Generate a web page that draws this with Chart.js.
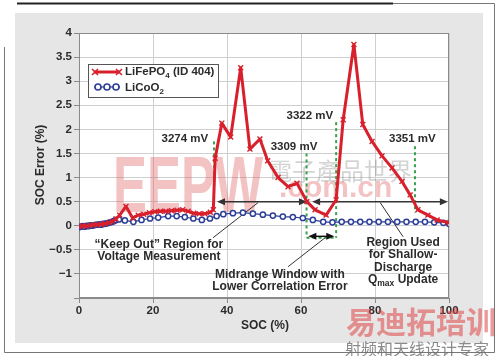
<!DOCTYPE html>
<html>
<head>
<meta charset="utf-8">
<script src="https://cdn.jsdelivr.net/npm/chart.js@4"></script>
<style>
html,body{margin:0;padding:0;background:#fff;}
#wrap{width:500px;height:356px;position:relative;}
</style>
</head>
<body>
<div id="wrap"><canvas id="c" width="500" height="356"></canvas></div>
<script>
// LiFePO4 (ID 404) SOC error
const socFe=[0,1,2,3,4,5,6,7,8,9,10,11,12.7,14.5,16,17.5,19,20.5,22,23.5,25,26.5,28,29.5,31,32.5,34,35.5,36.3,36.8,38.6,41,43.7,46.2,48.9,51,53.8,56.5,58.9,61.6,63.8,66.8,69.5,71.4,74.3,76.7,79.2,81.9,84.6,87.3,89.5,91.6,94.3,96.8,100];
const errFe=[-0.02,0,-0.01,0.01,0.02,0.02,0.03,0.04,0.06,0.09,0.14,0.22,0.4,0.16,0.22,0.24,0.27,0.29,0.3,0.3,0.31,0.32,0.33,0.3,0.26,0.25,0.25,0.28,0.33,1.4,2.13,1.84,3.28,1.59,1.8,1.35,1.0,0.81,0.88,0.5,0.33,0.22,0.54,2.2,3.76,2.1,1.75,1.45,1.2,0.92,0.64,0.33,0.22,0.12,0.06];

// LiCoO2
const socCo=[0,0.5,1,1.5,2,2.5,3,3.5,4,4.5,5,5.5,6,6.5,7,7.5,8,8.5,9,9.5,10,10.8,12.4,14.7,16.9,19.2,21.4,24.1,26.4,28.6,30.9,33.2,35.4,37.2,39,41.6,44.3,47,49.7,52.4,55.1,57.8,60.5,63.2,66,68.5,71,73.5,76,78.5,81,83.5,86,88.5,91,93.5,96,98.5,100];
const errCo=[-0.03,-0.02,-0.01,-0.02,0,-0.01,0.01,0,0.01,0.02,0.02,0.03,0.02,0.04,0.04,0.05,0.06,0.07,0.08,0.1,0.12,0.13,0.11,0.08,0.12,0.15,0.17,0.2,0.2,0.18,0.15,0.12,0.15,0.2,0.24,0.26,0.27,0.25,0.23,0.21,0.19,0.18,0.16,0.12,0.08,0.07,0.08,0.08,0.08,0.08,0.08,0.08,0.08,0.08,0.08,0.08,0.07,0.06,0.04];

const xTicks=[0,20,40,60,80,100];
const yTicks=[4,3.5,3,2.5,2,1.5,1,0.5,0,-0.5,-1];

// voltage markers (green dashed)
const mvLabels=['3274 mV','3309 mV','3322 mV','3351 mV'];
const mvSoc=[36.5,61.5,69.5,90.8];
const mvTop=[1.75,1.5,2.15,1.65];
const mvBottom=[0.4,-0.25,-0.25,0.27];
const mvLabelSoc=[28.6,58.1,62.4,90.1];
const mvLabelVal=[1.8,1.63,2.29,1.8];

const RED='#d8202c', BLUE='#2c3f96', GREEN='#35a24a', INK='#2b2b2b';
const FONT='"Liberation Sans", Arial, sans-serif';

function pt(chart,sx,v){
  return [chart.scales.x.getPixelForValue(sx), chart.scales.y.getPixelForValue(v)];
}

function arrowHead(ctx,x,y,dir){
  ctx.beginPath();
  ctx.moveTo(x,y);
  ctx.lineTo(x-dir*8,y-3.5);
  ctx.lineTo(x-dir*8,y+3.5);
  ctx.closePath(); ctx.fill();
}
function dblArrow(chart,s1,s2,v,color){
  const ctx=chart.ctx;
  const [x1,y]=pt(chart,s1,v); const [x2]=pt(chart,s2,v);
  ctx.save(); ctx.strokeStyle=color; ctx.fillStyle=color; ctx.lineWidth=1.5;
  ctx.beginPath(); ctx.moveTo(x1+4,y); ctx.lineTo(x2-4,y); ctx.stroke();
  arrowHead(ctx,x1,y,-1); arrowHead(ctx,x2,y,1);
  ctx.restore();
}
function segment(chart,s1,v1,s2,v2){
  const ctx=chart.ctx;
  const [x1,y1]=pt(chart,s1,v1), [x2,y2]=pt(chart,s2,v2);
  ctx.save(); ctx.strokeStyle='#333'; ctx.lineWidth=1;
  ctx.beginPath(); ctx.moveTo(x1,y1); ctx.lineTo(x2,y2); ctx.stroke(); ctx.restore();
}
function centerText(ctx,text,x,y){
  ctx.textAlign='center'; ctx.textBaseline='middle'; ctx.fillText(text,x,y);
}

const framePlugin={
  id:'frame',
  beforeDraw(chart){
    const ctx=chart.ctx, a=chart.chartArea;
    ctx.save();
    ctx.fillStyle='#fff'; ctx.fillRect(0,0,500,356);
    ctx.fillStyle='#e6e6e6'; ctx.fillRect(15,13,468,330);
    ctx.strokeStyle='#222'; ctx.lineWidth=2;
    ctx.beginPath(); ctx.moveTo(17,3.5); ctx.lineTo(393,3.5); ctx.stroke();
    ctx.strokeStyle='#777'; ctx.lineWidth=1;
    ctx.beginPath(); ctx.moveTo(393,3.5); ctx.lineTo(494.5,3.5); ctx.lineTo(494.5,352.5); ctx.lineTo(4.5,352.5); ctx.lineTo(4.5,47); ctx.stroke();
    ctx.fillStyle='#fff'; ctx.fillRect(a.left,a.top,a.right-a.left,a.bottom-a.top);
    ctx.restore();
  },
  beforeDatasetsDraw(chart){
    const ctx=chart.ctx, a=chart.chartArea;
    ctx.save();
    // watermark
    ctx.fillStyle='rgba(222,90,90,0.36)';
    ctx.font='bold 80px '+FONT;
    const w=ctx.measureText('EEPW').width;
    ctx.save(); ctx.translate(113,212); ctx.scale(150/w,1);
    ctx.textAlign='left'; ctx.textBaseline='alphabetic'; ctx.fillText('EEPW',0,0); ctx.restore();
    ctx.font='bold 30px '+FONT; ctx.textAlign='left'; ctx.textBaseline='alphabetic';
    ctx.fillText('.com.cn',279,197);
    ctx.fillStyle='rgba(120,120,120,0.32)';
    ctx.font='24px "Noto Sans CJK TC"';
    ctx.fillText('電子產品世界',268,180);
    // frame of plot
    ctx.strokeStyle='#8a8a8a'; ctx.lineWidth=1;
    ctx.strokeRect(a.left+0.5,a.top+0.5,a.right-a.left-1,a.bottom-a.top-1);
    // green dashed markers
    ctx.strokeStyle=GREEN; ctx.lineWidth=2; ctx.setLineDash([3,3]);
    mvSoc.forEach((s,i)=>{
      const [x,y1]=pt(chart,s,mvTop[i]); const [,y2]=pt(chart,s,mvBottom[i]);
      ctx.beginPath(); ctx.moveTo(x,y1); ctx.lineTo(x,y2); ctx.stroke();
    });
    const [bx1,by]=pt(chart,mvSoc[1],mvBottom[1]); const [bx2]=pt(chart,mvSoc[2],mvBottom[2]);
    ctx.beginPath(); ctx.moveTo(bx1,by); ctx.lineTo(bx2,by); ctx.stroke();
    ctx.setLineDash([]);
    ctx.restore();
    dblArrow(chart,37.3,61.6,0.5,'#333');
    dblArrow(chart,63,99.7,0.5,'#333');
    dblArrow(chart,62,69,-0.22,'#111');
    segment(chart,36.2,-0.25,48.4,0.48);
    segment(chart,56.5,-0.85,66.5,-0.25);
    segment(chart,81.4,0.48,87.6,-0.23);
  },
  afterDraw(chart){
    const ctx=chart.ctx;
    ctx.save();
    ctx.fillStyle=INK;
    ctx.font='bold 11.5px '+FONT;
    mvLabels.forEach((t,i)=>{
      const [x,y]=pt(chart,mvLabelSoc[i],mvLabelVal[i]);
      centerText(ctx,t,x,y);
    });
    ctx.font='bold 12px '+FONT;
    let [x,y]=pt(chart,21.6,-0.39);
    centerText(ctx,'\u201cKeep Out\u201d Region for',x,y);
    centerText(ctx,'Voltage Measurement',x,y+12.5);
    [x,y]=pt(chart,54.3,-1.01);
    centerText(ctx,'Midrange Window with',x,y);
    centerText(ctx,'Lower Correlation Error',x,y+12.5);
    [x,y]=pt(chart,87.6,-0.35);
    centerText(ctx,'Region Used',x,y);
    centerText(ctx,'for Shallow-',x,y+12.5);
    centerText(ctx,'Discharge',x,y+25);
    // Qmax Update
    const q='Q', sub='max', rest=' Update';
    ctx.font='bold 12px '+FONT; const wq=ctx.measureText(q).width, wr=ctx.measureText(rest).width;
    ctx.font='bold 8.5px '+FONT; const ws=ctx.measureText(sub).width;
    let lx=x-(wq+ws+wr)/2, ly=y+37.5;
    ctx.textAlign='left';
    ctx.font='bold 12px '+FONT; ctx.fillText(q,lx,ly);
    ctx.font='bold 8.5px '+FONT; ctx.fillText(sub,lx+wq,ly+4);
    ctx.font='bold 12px '+FONT; ctx.fillText(rest,lx+wq+ws,ly);

    // axis titles
    ctx.font='bold 12px '+FONT;
    centerText(ctx,'SOC (%)',265,326);
    ctx.save(); ctx.translate(41,165); ctx.rotate(-Math.PI/2);
    centerText(ctx,'SOC Error (%)',0,0); ctx.restore();

    // legend
    ctx.fillStyle='#fff'; ctx.fillRect(88,64,131,34);
    ctx.strokeStyle='#555'; ctx.lineWidth=1; ctx.strokeRect(88.5,64.5,130,33);
    ctx.strokeStyle=RED; ctx.lineWidth=3;
    ctx.beginPath(); ctx.moveTo(94,72); ctx.lineTo(120,72); ctx.stroke();
    ctx.lineWidth=1.5;
    [95,119].forEach(px=>{ctx.beginPath(); ctx.moveTo(px-3,69); ctx.lineTo(px+3,75); ctx.moveTo(px-3,75); ctx.lineTo(px+3,69); ctx.stroke();});
    ctx.strokeStyle=BLUE; ctx.lineWidth=1.2;
    ctx.beginPath(); ctx.moveTo(94,87); ctx.lineTo(120,87); ctx.stroke();
    ctx.lineWidth=1.6; ctx.fillStyle='#fff';
    [98,107,116].forEach(px=>{ctx.beginPath(); ctx.arc(px,87,3,0,Math.PI*2); ctx.fill(); ctx.stroke();});
    ctx.fillStyle=INK; ctx.textAlign='left'; ctx.textBaseline='middle';
    ctx.font='bold 11.5px '+FONT;
    let t1='LiFePO', w1=ctx.measureText(t1).width;
    ctx.fillText(t1,125,72);
    ctx.font='bold 8px '+FONT; ctx.fillText('4',125+w1,76); const w4=ctx.measureText('4').width;
    ctx.font='bold 11.5px '+FONT; ctx.fillText(' (ID 404)',125+w1+w4,72);
    let t2='LiCoO', w2=ctx.measureText(t2).width;
    ctx.fillText(t2,125,88);
    ctx.font='bold 8px '+FONT; ctx.fillText('2',125+w2,92);

    // bottom-right watermark
    ctx.fillStyle='rgba(222,70,70,0.55)';
    ctx.font='bold 30px "Noto Sans CJK SC"';
    ctx.textAlign='left'; ctx.textBaseline='alphabetic';
    ctx.fillText('易迪拓培训',346,333);
    ctx.fillStyle='rgba(110,110,110,0.8)';
    ctx.font='16px "Noto Sans CJK SC"';
    ctx.fillText('射频和天线设计专家',345,355);
    ctx.restore();
  }
};

new Chart(document.getElementById('c'),{
  type:'scatter',
  data:{datasets:[
    {label:'LiCoO2',data:socCo.map((s,i)=>({x:s,y:errCo[i]})),showLine:true,borderColor:BLUE,borderWidth:1.2,
     pointStyle:'circle',pointRadius:2.6,pointBorderWidth:1.5,pointBorderColor:BLUE,pointBackgroundColor:'#fff',order:2},
    {label:'LiFePO4 (ID 404)',data:socFe.map((s,i)=>({x:s,y:errFe[i]})),showLine:true,borderColor:RED,borderWidth:3,
     borderJoinStyle:'round',
     pointStyle:'crossRot',pointRadius:3.5,pointBorderWidth:1.4,pointBorderColor:RED,order:1}
  ]},
  options:{
    responsive:false,animation:false,
    layout:{padding:{top:33,right:51,left:0,bottom:0}},
    plugins:{legend:{display:false},tooltip:{enabled:false}},
    scales:{
      x:{type:'linear',min:0,max:100,
        afterFit:s=>{s.height=58;},
        afterBuildTicks:s=>{s.ticks=xTicks.map(v=>({value:v}));},
        grid:{color:'#cfcfcf',tickColor:'#888',tickLength:5,drawTicks:true},
        border:{color:'#888'},
        ticks:{color:INK,font:{family:FONT,size:11.5,weight:'bold'},padding:1,maxRotation:0}},
      y:{min:-1.5,max:4,
        afterFit:s=>{s.width=79;},
        afterBuildTicks:s=>{s.ticks=[-1.5].concat(yTicks.slice().reverse()).map(v=>({value:v}));},
        grid:{color:'#cfcfcf',tickColor:'#888',tickLength:5,drawTicks:true},
        border:{color:'#888'},
        ticks:{color:INK,font:{family:FONT,size:11.5,weight:'bold'},padding:2,
          callback:v=>yTicks.includes(v)?(v<0?'\u2212'+Math.abs(v):String(v)):''}}
    }
  },
  plugins:[framePlugin]
});
</script>
</body>
</html>
